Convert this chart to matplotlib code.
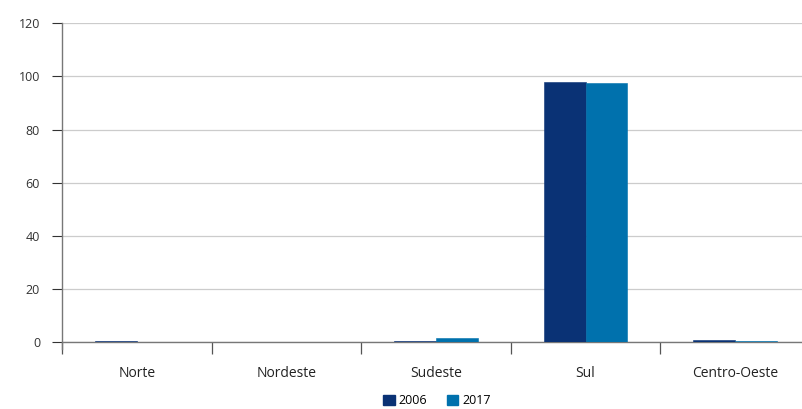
import matplotlib

matplotlib.use("Agg")

import matplotlib.pyplot as plt
import numpy as np
from matplotlib.patches import Patch

categories = ["Norte", "Nordeste", "Sudeste", "Sul", "Centro-Oeste"]
series_names = ["2006", "2017"]
values_2006 = [0.6, 0.2, 0.6, 97.8, 0.8]
values_2017 = [0.3, 0.2, 1.7, 97.4, 0.4]
y_ticks = [0, 20, 40, 60, 80, 100, 120]

colors = ["#0a3275", "#0071ad"]

plt.rcParams["font.family"] = ["Open Sans", "DejaVu Sans"]

W, H = 802, 409
PT = 0.72  # points per pixel at dpi 100
fig = plt.figure(figsize=(W / 100, H / 100), dpi=100)
left, right, top, bottom = 62, 810, 23.3, 342.3
ax = fig.add_axes([left / W, 1 - bottom / H, (right - left) / W, (bottom - top) / H])

x = np.arange(len(categories))
bw = 0.28
for i, (vals, name) in enumerate(zip([values_2006, values_2017], series_names)):
    ax.bar(x + (i - 0.5) * bw, vals, width=bw, color=colors[i], edgecolor=colors[i],
           linewidth=0.4, label=name, zorder=3)

ax.set_xlim(-0.5, len(categories) - 0.5)
ax.set_ylim(0, 120)
ax.set_yticks(y_ticks)
ax.set_yticklabels([str(v) for v in y_ticks], fontsize=9, color="#333333")
ax.yaxis.grid(True, color="#cccccc", linewidth=0.9, zorder=0)
ax.tick_params(axis="y", length=10 * PT, width=0.8, color="#333333", pad=12 * PT)

ax.set_xticks(np.arange(len(categories) + 1) - 0.5)
ax.set_xticklabels([])
ax.tick_params(axis="x", length=12 * PT, width=0.9, color="#555555")
ax.set_xticks(x, minor=True)
ax.set_xticklabels(categories, minor=True, fontsize=10, color="#222222")
ax.tick_params(axis="x", which="minor", length=0, pad=24 * PT)

for s in ["top", "right"]:
    ax.spines[s].set_visible(False)
ax.spines["left"].set_color("#777777")
ax.spines["bottom"].set_color("#777777")
ax.spines["left"].set_linewidth(1.0)
ax.spines["bottom"].set_linewidth(1.0)
ax.spines["left"].set_bounds(-2.5, 120)

handles = [Patch(facecolor=c, edgecolor=c) for c in colors]
fig.legend(handles, series_names, loc="center", bbox_to_anchor=(437 / W, 1 - 401 / H),
           ncol=2, frameon=False, fontsize=9, handlelength=0.9, handleheight=0.9,
           handletextpad=0.3, columnspacing=1.6, borderpad=0.2)

fig.savefig("out.png", dpi=100)
